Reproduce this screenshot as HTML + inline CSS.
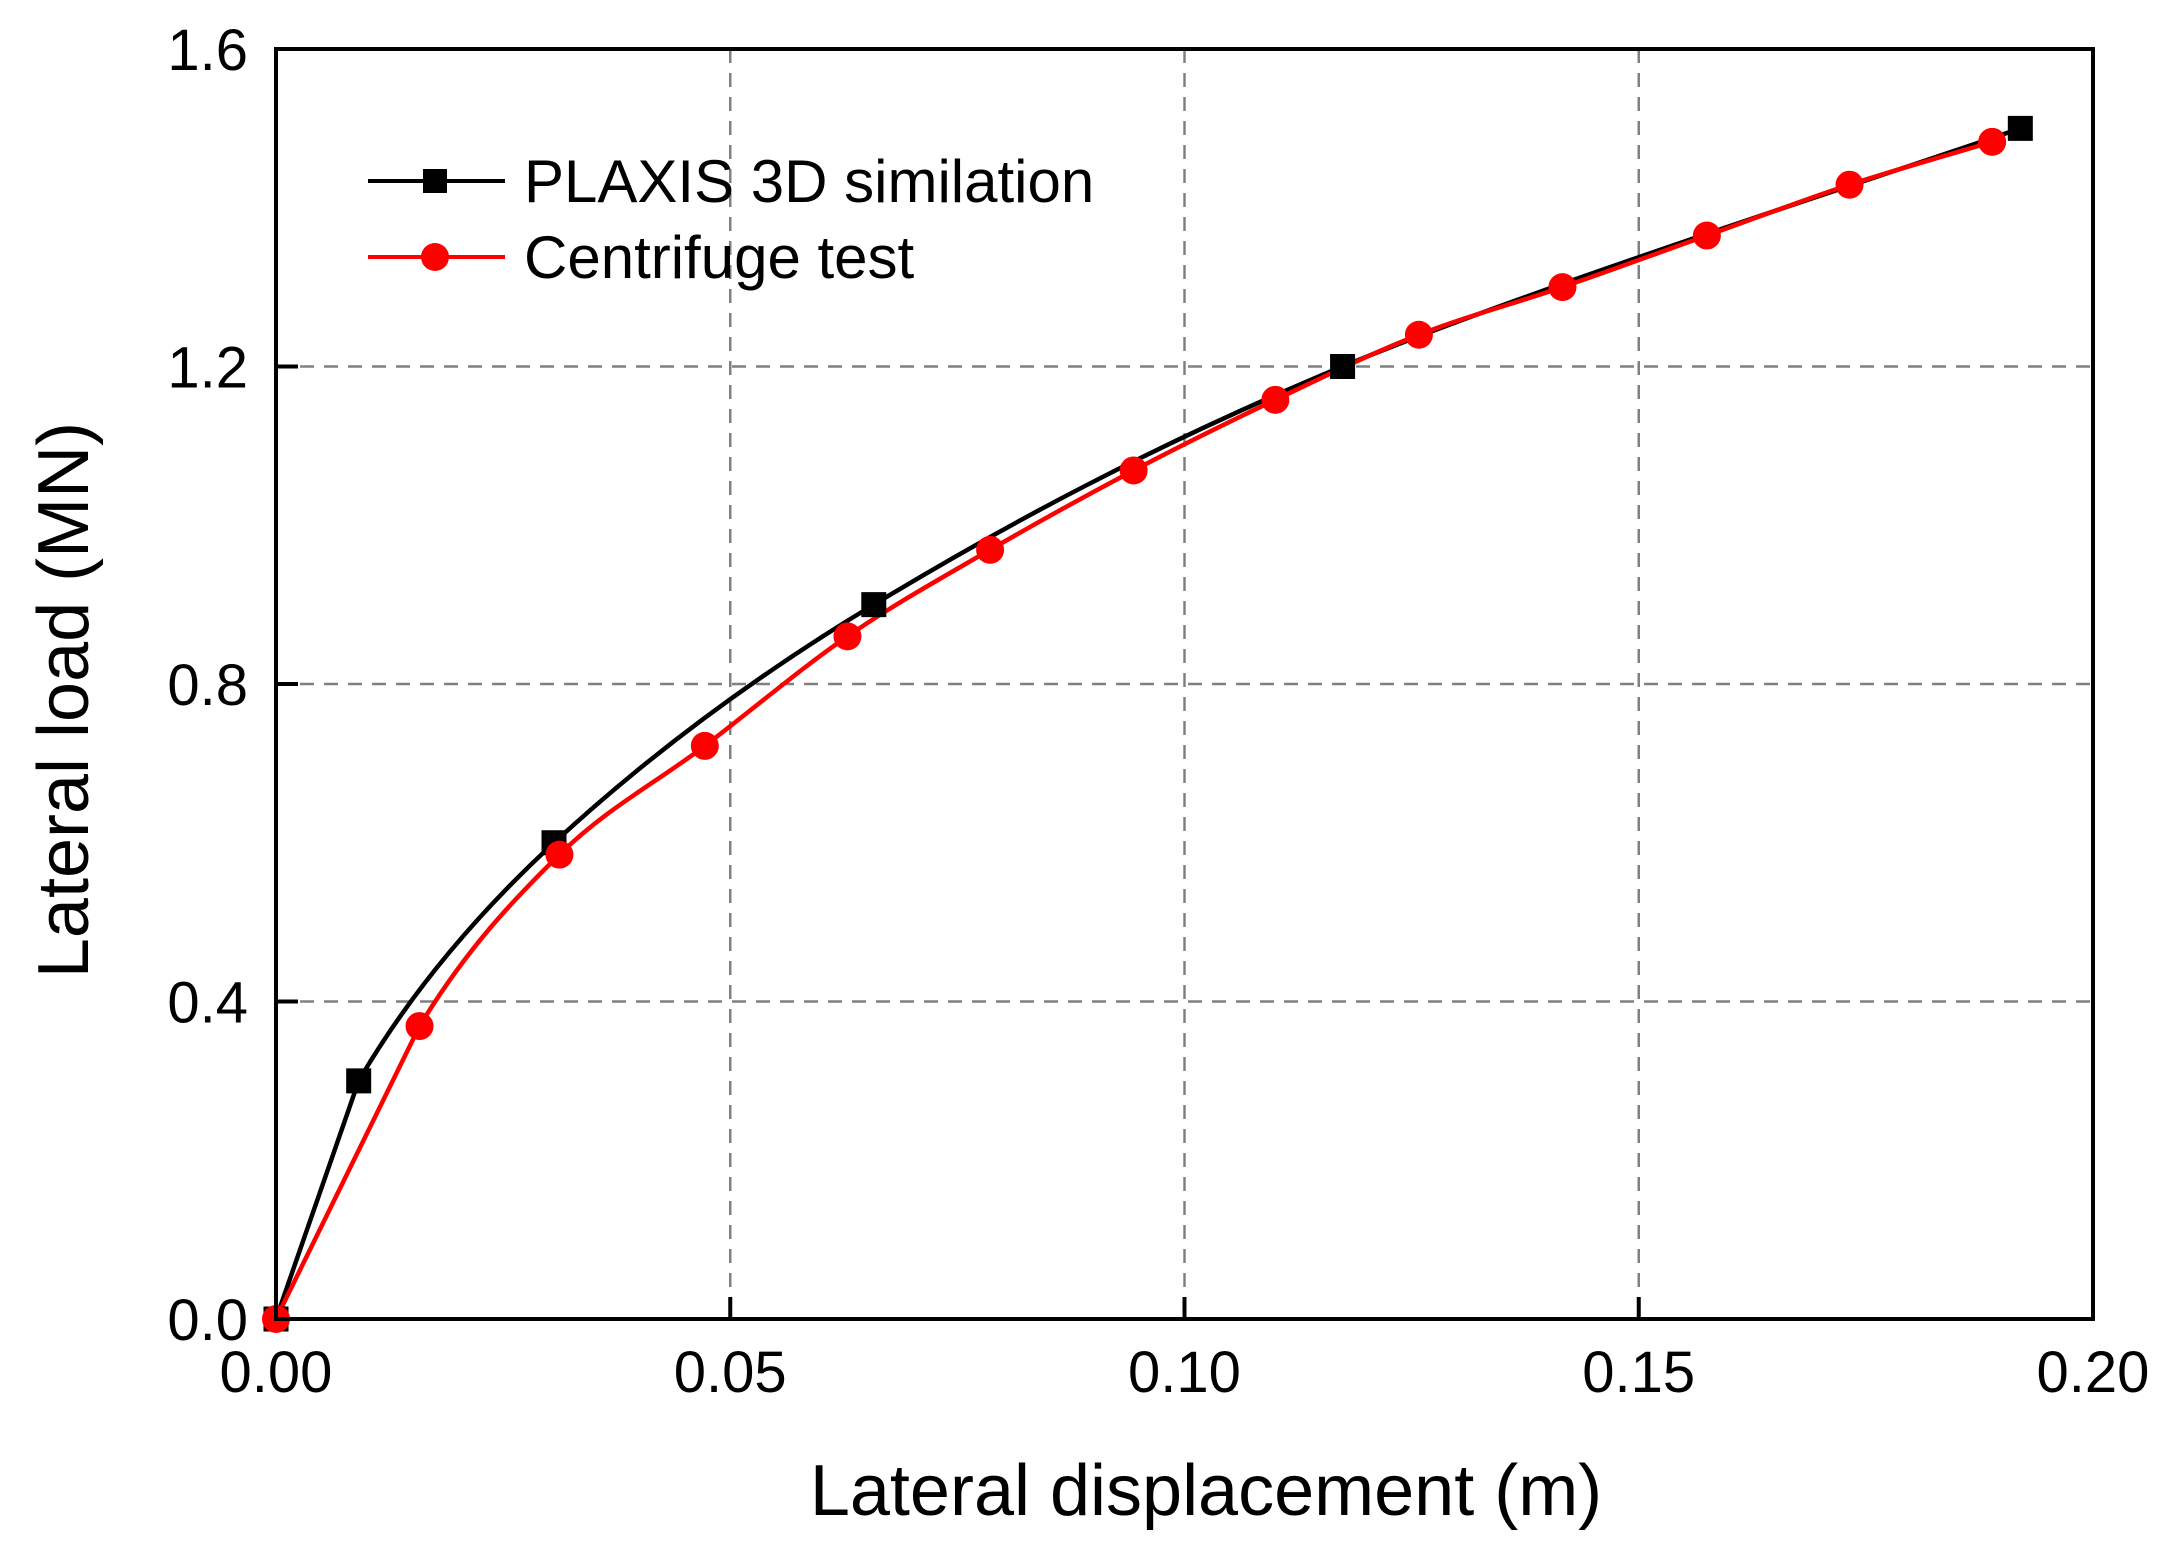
<!DOCTYPE html>
<html><head><meta charset="utf-8"><style>
html,body{margin:0;padding:0;background:#fff;}
svg{display:block;font-family:"Liberation Sans",Arial,sans-serif;}
</style></head><body>
<svg id="chart" width="2168" height="1546" viewBox="0 0 2168 1546" xmlns="http://www.w3.org/2000/svg">
<g id="grid"></g>
<g id="series"></g>
<rect x="276" y="49" width="1817" height="1270" fill="none" stroke="#000" stroke-width="4"/>
<g id="ticks"></g>
<text x="1206" y="1515" font-size="72" text-anchor="middle">Lateral displacement (m)</text>
<text transform="translate(88,700) rotate(-90)" font-size="72" text-anchor="middle">Lateral load (MN)</text>
<g>
  <g>
    <line x1="368" y1="181" x2="505" y2="181" stroke="#000" stroke-width="4"/>
    <rect x="423" y="169" width="24" height="24" fill="#000"/>
    <text x="524" y="202" font-size="60">PLAXIS 3D similation</text>
  </g>
  <g>
    <line x1="368" y1="257" x2="505" y2="257" stroke="#f00" stroke-width="4"/>
    <circle cx="435" cy="257" r="14" fill="#f00"/>
    <text x="524" y="278" font-size="60">Centrifuge test</text>
  </g>
</g>
</svg>
<script>
const xTicks = [0, 0.05, 0.10, 0.15, 0.20];
const xTickLabels = ["0.00", "0.05", "0.10", "0.15", "0.20"];
const yTicks = [0, 0.4, 0.8, 1.2, 1.6];
const yTickLabels = ["0.0", "0.4", "0.8", "1.2", "1.6"];
const plaxisX = [0, 0.0091, 0.0306, 0.0658, 0.1174, 0.192];
const plaxisY = [0, 0.30, 0.60, 0.90, 1.20, 1.50];
const centX = [0, 0.0158, 0.0312, 0.0472, 0.0629, 0.0786, 0.0944, 0.110, 0.1258, 0.1416, 0.1575, 0.1732, 0.1889];
const centY = [0, 0.369, 0.585, 0.722, 0.860, 0.969, 1.069, 1.158, 1.240, 1.300, 1.365, 1.429, 1.483];

const NS = "http://www.w3.org/2000/svg";
const X0 = 276, X1 = 2093, Y0 = 1319, Y1 = 49;
function sx(v){ return X0 + (v - 0) / 0.2 * (X1 - X0); }
function sy(v){ return Y0 - (v - 0) / 1.6 * (Y0 - Y1); }
function mk(tag, attrs, parent){ const e = document.createElementNS(NS, tag); for (const k in attrs) e.setAttribute(k, attrs[k]); parent.appendChild(e); return e; }

const grid = document.getElementById('grid');
const ticks = document.getElementById('ticks');
xTicks.forEach((v, i) => {
  const x = sx(v);
  if (i > 0 && i < xTicks.length - 1) {
    const g = mk('line', {x1: x, y1: Y1, x2: x, y2: Y0, stroke: '#808080', 'stroke-width': 2.5, 'stroke-dasharray': '14 10'}, grid);
    
    
    const t = mk('line', {x1: x, y1: Y0, x2: x, y2: Y0 - 22, stroke: '#000', 'stroke-width': 4}, ticks);
    
    
  }
  const lb = mk('text', {x: x, y: 1392, 'font-size': 58, 'text-anchor': 'middle'}, ticks);
  lb.textContent = xTickLabels[i];
  
  
});
yTicks.forEach((v, i) => {
  const y = sy(v);
  if (i > 0 && i < yTicks.length - 1) {
    const g = mk('line', {x1: X0, y1: y, x2: X1, y2: y, stroke: '#808080', 'stroke-width': 2.5, 'stroke-dasharray': '14 10'}, grid);
    
    
    const t = mk('line', {x1: X0, y1: y, x2: X0 + 22, y2: y, stroke: '#000', 'stroke-width': 4}, ticks);
    
    
  }
  const lb = mk('text', {x: 248, y: y + 21, 'font-size': 58, 'text-anchor': 'end'}, ticks);
  lb.textContent = yTickLabels[i];
  
  
});

function spline(xs, ys){
  const p = xs.map((v, i) => [sx(v), sy(ys[i])]);
  let d = 'M' + p[0][0] + ',' + p[0][1] + ' L' + p[1][0] + ',' + p[1][1];
  for (let i = 1; i < p.length - 1; i++) {
    const p0 = p[i - 1], p1 = p[i], p2 = p[i + 1], p3 = p[i + 2] || p2;
    const c1 = [p1[0] + (p2[0] - p0[0]) / 6, p1[1] + (p2[1] - p0[1]) / 6];
    const c2 = [p2[0] - (p3[0] - p1[0]) / 6, p2[1] - (p3[1] - p1[1]) / 6];
    d += ' C' + c1[0] + ',' + c1[1] + ' ' + c2[0] + ',' + c2[1] + ' ' + p2[0] + ',' + p2[1];
  }
  return d;
}
const series = document.getElementById('series');
const l1 = mk('path', {d: spline(plaxisX, plaxisY), fill: 'none', stroke: '#000', 'stroke-width': 4.5}, series);


const l2 = mk('path', {d: spline(centX, centY), fill: 'none', stroke: '#f00', 'stroke-width': 4.5}, series);


plaxisX.forEach((v, i) => {
  const r = mk('rect', {x: sx(v) - 12.5, y: sy(plaxisY[i]) - 12.5, width: 25, height: 25, fill: '#000'}, series);
  
  
});
centX.forEach((v, i) => {
  const c = mk('circle', {cx: sx(v), cy: sy(centY[i]), r: 14, fill: '#f00'}, series);
  
  
});
</script>
</body></html>
